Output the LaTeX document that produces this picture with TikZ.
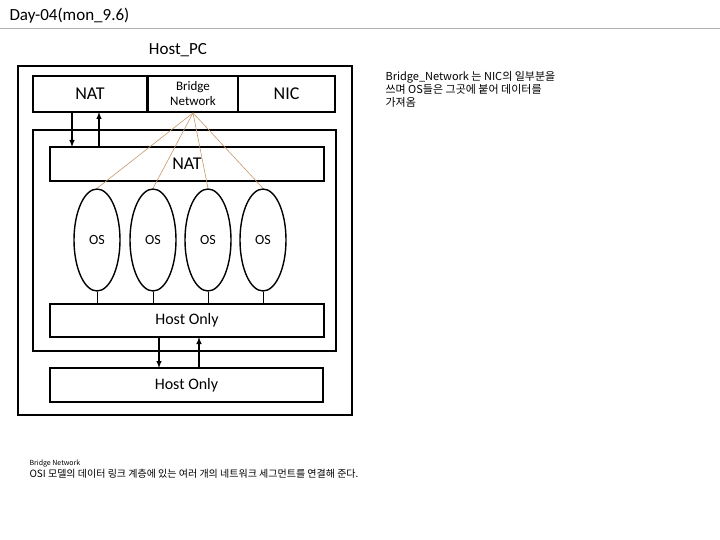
\documentclass[tikz,border=0pt]{standalone}
\usepackage{fontspec}
\setmainfont{Carlito}
\newfontfamily\krfont{Noto Sans CJK KR}
\usetikzlibrary{shapes.geometric}
\definecolor{bridgetan}{RGB}{200,150,105}

\tikzset{
  netbox/.style={draw, line width=1.8pt, inner sep=0pt, align=center},
  osnode/.style={draw, ellipse, line width=1.4pt, minimum width=46, minimum height=102, inner sep=0pt, font=\fontsize{14}{14}\selectfont},
  bridgeline/.style={draw=bridgetan, line width=0.6pt},
  tick/.style={line width=0.6pt},
  link/.style={->, >=latex, line width=1.4pt}
}

\begin{document}
\begin{tikzpicture}[x=1pt, y=-1pt]
		\useasboundingbox (0,0) rectangle (720,540);
		% title
		\node[anchor=west, font=\fontsize{17}{17}\selectfont] (title) at (6,16) {Day-04(mon\_9.6)};
		\draw[gray!60, line width=1pt] (0,29) -- (720,29);
		\node[font=\fontsize{17}{17}\selectfont] (hostpc) at (178,50) {Host\_PC};
		% frames
		\draw[line width=1.8pt] (18,66) rectangle (352,415);
		\draw[line width=1.8pt] (33,130) rectangle (336,351);
		% top row
		\node[netbox, minimum width=114, minimum height=36, font=\fontsize{18}{18}\selectfont] (nat) at (90,94) {NAT};
		\node[netbox, minimum width=90, minimum height=36, font=\fontsize{13}{15}\selectfont] (bridge) at (193,94) {Bridge\\Network};
		\node[netbox, minimum width=97, minimum height=36, font=\fontsize{18}{18}\selectfont] (nic) at (286.5,94) {NIC};
		% inner bars
		\node[netbox, minimum width=274, minimum height=34, font=\fontsize{18}{18}\selectfont] (natbar) at (187,164) {NAT};
		\node[netbox, minimum width=274, minimum height=33, font=\fontsize{16}{16}\selectfont] (hostbar) at (187,320.5) {Host Only};
		\node[netbox, minimum width=273, minimum height=34, font=\fontsize{16}{16}\selectfont] (hostonly) at (186.5,385) {Host Only};
		% guest systems
		\foreach \i/\x in {1/97, 2/153, 3/208, 4/263}{
			\node[osnode] (os\i) at (\x,240) {OS};
			\draw[bridgeline] (bridge.south) -- (os\i.north);
			\draw[tick] (os\i.south) -- (os\i.south |- hostbar.north);
		}
		% arrows
		\draw[link] (72,112) -- (72,147);
		\draw[link] (99,147) -- (99,112);
		\draw[link] (159,337) -- (159,368);
		\draw[link] (199,368) -- (199,337);
		% notes
		\node[anchor=north west, align=left, font=\krfont\fontsize{11}{13}\selectfont] (note) at (382,68) {Bridge\_Network 는 NIC의 일부분을\\쓰며 OS들은 그곳에 붙어 데이터를\\가져옴};
		\node[anchor=north west, align=left, font=\krfont\fontsize{7}{9}\selectfont] (defhead) at (26,456) {Bridge Network};
		\node[anchor=north west, align=left, font=\krfont\fontsize{10}{10}\selectfont] (defbody) at (26,466) {OSI 모델의 데이터 링크 계층에 있는 여러 개의 네트워크 세그먼트를 연결해 준다.};
	\end{tikzpicture}
\end{document}
